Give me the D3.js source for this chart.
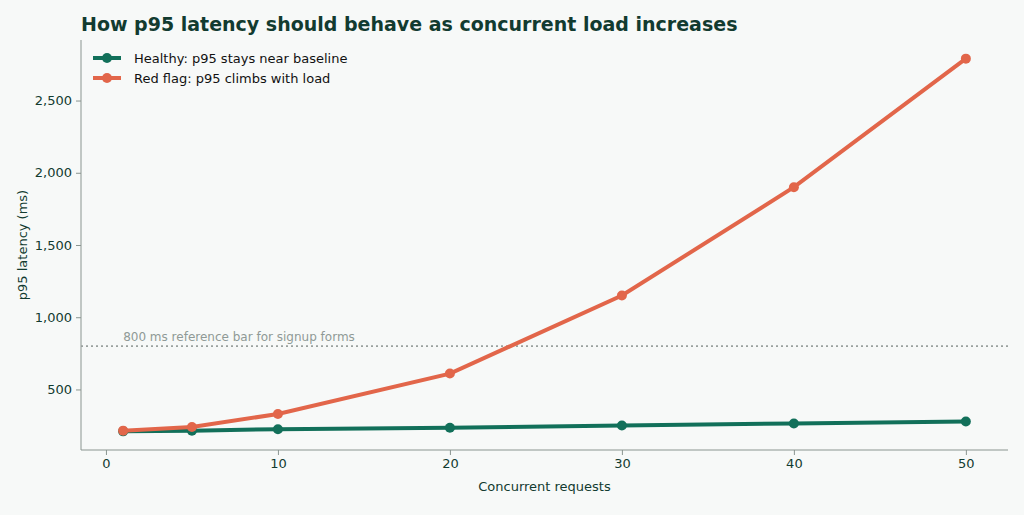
<!DOCTYPE html>
<html><head><meta charset="utf-8">
<script src="https://cdn.jsdelivr.net/npm/d3@7"></script>
<style>body{margin:0;background:#f7f9f8;}text{font-family:"DejaVu Sans",sans-serif;}</style>
</head><body><svg id="c" width="1024" height="515"></svg>
<script>
const xValues=[1,5,10,20,30,40,50];
const healthy=[210,215,225,235,250,265,278];
const redFlag=[215,240,330,610,1150,1900,2790];
const xTicks=[0,10,20,30,40,50];
const yTicks=[500,1000,1500,2000,2500];
const refValue=800;

const svg=d3.select("#c");
const m={l:81,r:1008,t:40,b:450};
const x=d3.scaleLinear().domain([-1.45,52.45]).range([m.l,m.r]);
const y=d3.scaleLinear().domain([81,2919]).range([m.b,m.t]);
svg.append("rect").attr("width",1024).attr("height",515).attr("fill","#f7f9f8");
svg.append("text").attr("x",81).attr("y",31).attr("font-size",19).attr("font-weight","bold").attr("fill","#123b30").text("How p95 latency should behave as concurrent load increases");
const gx=svg.append("g").attr("transform",`translate(0,${m.b})`).call(d3.axisBottom(x).tickValues(xTicks).tickSize(5).tickPadding(4));
const gy=svg.append("g").attr("transform",`translate(${m.l},0)`).call(d3.axisLeft(y).tickValues(yTicks).tickSize(5).tickPadding(4));
[gx,gy].forEach(g=>{g.selectAll("path,line").attr("stroke","#8a9590");g.selectAll("text").attr("font-size",13).attr("fill","#123b30");g.select(".domain").attr("d",g===gx?`M${m.l},0H${m.r}`:`M0,${m.b}V${m.t}`);});
svg.append("text").attr("x",(m.l+m.r)/2).attr("y",491).attr("text-anchor","middle").attr("font-size",13).attr("fill","#123b30").text("Concurrent requests");
svg.append("text").attr("transform",`translate(27,${(m.t+m.b)/2}) rotate(-90)`).attr("text-anchor","middle").attr("font-size",13).attr("fill","#123b30").text("p95 latency (ms)");
svg.append("line").attr("x1",m.l).attr("x2",m.r).attr("y1",y(refValue)).attr("y2",y(refValue)).attr("stroke","#9aa19e").attr("stroke-width",1.6).attr("stroke-dasharray","2,3");
svg.append("text").attr("x",x(1)).attr("y",y(refValue)-5).attr("font-size",12).attr("fill","#8f9a96").text("800 ms reference bar for signup forms");
const line=d3.line().x((d,i)=>x(xValues[i])).y(d=>y(d));
[[healthy,"#12705a"],[redFlag,"#e2664a"]].forEach(([s,c])=>{
 svg.append("path").datum(s).attr("d",line).attr("fill","none").attr("stroke",c).attr("stroke-width",4);
 svg.selectAll(null).data(s).enter().append("circle").attr("cx",(d,i)=>x(xValues[i])).attr("cy",d=>y(d)).attr("r",5).attr("fill",c);
});
const leg=[["Healthy: p95 stays near baseline","#12705a"],["Red flag: p95 climbs with load","#e2664a"]];
leg.forEach(([t,c],i)=>{const yy=58+i*20;
 svg.append("line").attr("x1",93).attr("x2",121).attr("y1",yy).attr("y2",yy).attr("stroke",c).attr("stroke-width",4);
 svg.append("circle").attr("cx",107).attr("cy",yy).attr("r",5).attr("fill",c);
 svg.append("text").attr("x",134).attr("y",yy+5).attr("font-size",13).attr("fill","#111").text(t);});
</script></body></html>
